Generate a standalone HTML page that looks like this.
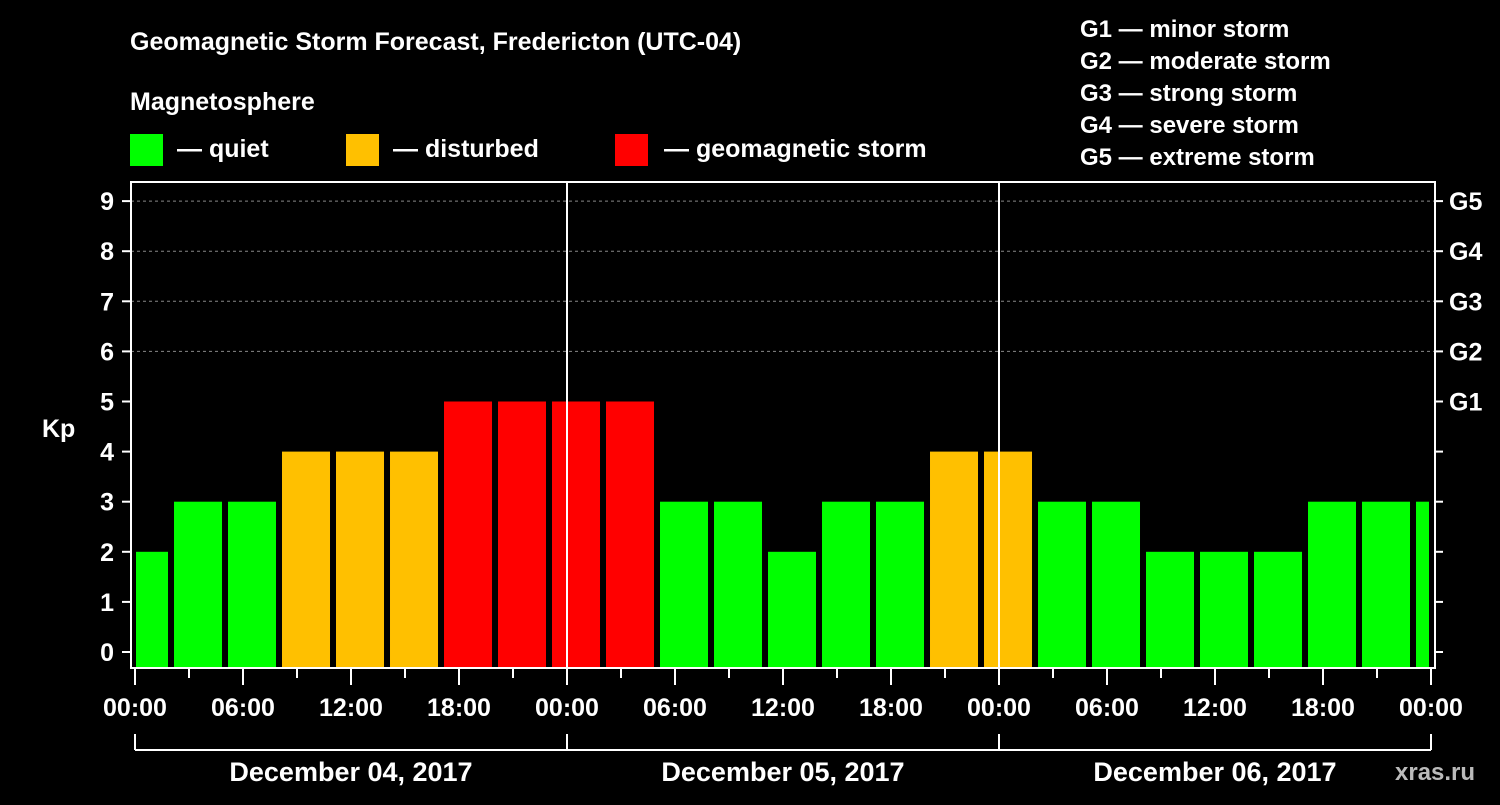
<!DOCTYPE html>
<html><head><meta charset="utf-8"><style>
body{margin:0;background:#000;width:1500px;height:800px;overflow:hidden;font-family:"Liberation Sans",Arial,sans-serif}
text{font-family:"Liberation Sans",Arial,sans-serif;font-weight:bold;fill:#fff}
</style></head><body>
<svg id="chart" width="1500" height="800" xmlns="http://www.w3.org/2000/svg">
<text x="130" y="50" font-size="25">Geomagnetic Storm Forecast, Fredericton (UTC-04)</text>
<text x="130" y="110" font-size="25">Magnetosphere</text>
<g>
<rect x="130" y="134" width="33" height="32" fill="#00ff00"/><text x="177" y="157" font-size="25">— quiet</text>
<rect x="346" y="134" width="33" height="32" fill="#ffc000"/><text x="393" y="157" font-size="25">— disturbed</text>
<rect x="615" y="134" width="33" height="32" fill="#ff0000"/><text x="664" y="157" font-size="25">— geomagnetic storm</text>
</g>
<g font-size="24">
<text x="1080" y="37" font-size="24">G1 — minor storm</text>
<text x="1080" y="69" font-size="24">G2 — moderate storm</text>
<text x="1080" y="101" font-size="24">G3 — strong storm</text>
<text x="1080" y="133" font-size="24">G4 — severe storm</text>
<text x="1080" y="165" font-size="24">G5 — extreme storm</text>
</g>
<g id="plot"></g>
<text x="1395" y="780" font-size="24" style="fill:#bbb">xras.ru</text>
</svg>
<script>
const kpValues=[2,3,3,4,4,4,5,5,5,5,3,3,2,3,3,4,4,3,3,2,2,2,3,3,3];
const yTicks=[0,1,2,3,4,5,6,7,8,9];
const gLabels=["G1","G2","G3","G4","G5"];
const hourLabels=["00:00","06:00","12:00","18:00","00:00","06:00","12:00","18:00","00:00","06:00","12:00","18:00","00:00"];
const dayLabels=["December 04, 2017","December 05, 2017","December 06, 2017"];
const NS="http://www.w3.org/2000/svg";
const g=document.getElementById('plot');
const X0=135,PXH=18,L=131,R=1435,T=182,B=668;
const x=h=>X0+h*PXH, y=v=>652-v*50.1;
function mk(t,a){const e=document.createElementNS(NS,t);for(const k in a)e.setAttribute(k,a[k]);g.appendChild(e);return e;}
// grid
for(let v=6;v<=9;v++){const e=mk('line',{x1:L,x2:R,y1:y(v),y2:y(v),stroke:'#888','stroke-dasharray':'3,3'});

}
// bars
kpValues.forEach((v,k)=>{
 let left=x(3*k-0.833),right=left+48;
 left=Math.max(left,136);right=Math.min(right,1429);
 const c=v>=5?'#ff0000':v>=4?'#ffc000':'#00ff00';
 const r=mk('rect',{x:left,y:y(v),width:right-left,height:B-y(v),fill:c});
 
 
});
// day separators
[24,48].forEach(h=>{const e=mk('line',{x1:x(h),x2:x(h),y1:T,y2:B,stroke:'#fff','stroke-width':2});

});
// frame
const f=mk('rect',{x:L,y:T,width:R-L,height:B-T,fill:'none',stroke:'#fff','stroke-width':2});


// y ticks
yTicks.forEach(v=>{
 mk('line',{x1:122,x2:L,y1:y(v),y2:y(v),stroke:'#fff','stroke-width':2});
 mk('line',{x1:R,x2:1443,y1:y(v),y2:y(v),stroke:'#fff','stroke-width':2});
 const t=mk('text',{x:114,y:y(v)+9,'text-anchor':'end','font-size':25});t.textContent=v;
 
 
});
gLabels.forEach((s,i)=>{const t=mk('text',{x:1449,y:y(5+i)+9,'font-size':25});t.textContent=s;
 
 });
const kp=mk('text',{x:42,y:437,'font-size':25});kp.textContent='Kp';


// x ticks
for(let h=0;h<=72;h+=3){const big=h%6===0;mk('line',{x1:x(h),x2:x(h),y1:B,y2:big?685:678,stroke:'#fff','stroke-width':2});}
hourLabels.forEach((s,i)=>{const t=mk('text',{x:x(i*6),y:716,'text-anchor':'middle','font-size':25});t.textContent=s;
 
 });
// day bracket
mk('line',{x1:x(0),x2:x(72),y1:750,y2:750,stroke:'#fff','stroke-width':2});
[0,24,48,72].forEach(h=>mk('line',{x1:x(h),x2:x(h),y1:734,y2:750,stroke:'#fff','stroke-width':2}));
dayLabels.forEach((s,i)=>{const t=mk('text',{x:x(i*24+12),y:781,'text-anchor':'middle','font-size':27});t.textContent=s;
 
 });
</script>
</body></html>
